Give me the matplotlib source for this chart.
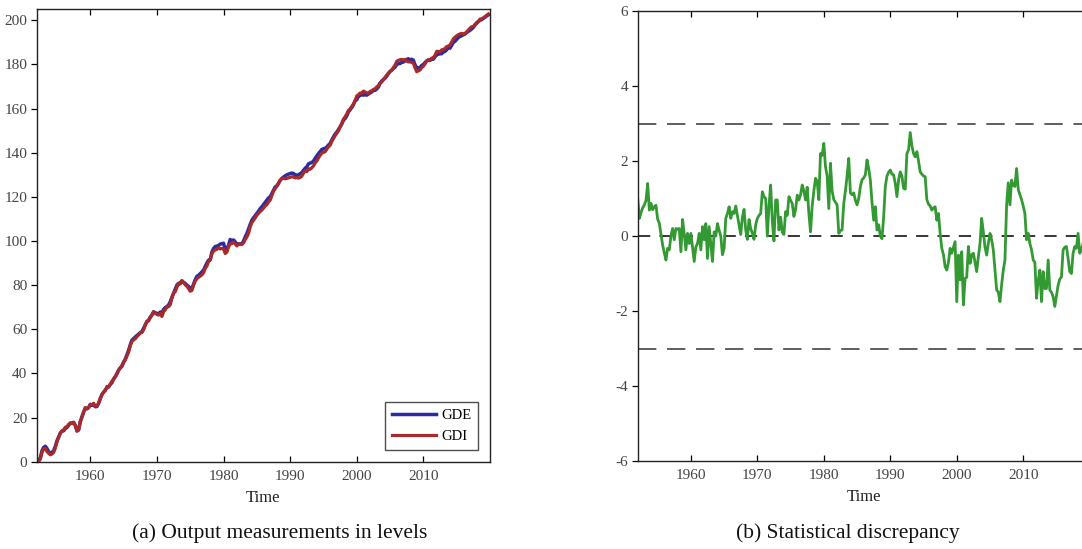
import numpy as np
import matplotlib
matplotlib.use("Agg")
import matplotlib.pyplot as plt

plt.rcParams['font.family'] = ['Liberation Serif', 'DejaVu Serif']

# Quarterly sample, 1952Q1 - 2019Q4
start_year = 1952
n_quarters = 272

# Gross domestic expenditure (100 x log level, rebased to 1952Q1)
gde = [
    0.0, 0.5, 1.8, 5.0,
    6.5, 7.0, 6.0, 4.5,
    4.0, 4.2, 5.0, 7.0,
    9.5, 11.3, 13.0, 13.8,
    14.0, 15.0, 15.5, 16.5,
    17.5, 17.5, 17.8, 16.5,
    14.0, 14.5, 18.0, 20.5,
    22.5, 24.2, 24.0, 24.5,
    26.0, 25.5, 25.8, 24.9,
    25.0, 26.5, 28.5, 30.5,
    31.5, 32.5, 33.5, 34.0,
    35.0, 35.8, 37.5, 38.5,
    40.0, 41.5, 42.5, 43.2,
    45.0, 46.5, 48.5, 50.5,
    53.0, 55.1, 55.8, 56.5,
    57.2, 57.8, 58.5, 59.0,
    60.5, 62.0, 63.5, 64.2,
    65.5, 66.5, 67.9, 67.5,
    67.2, 67.0, 67.8, 67.0,
    69.0, 69.8, 70.3, 71.0,
    72.5, 74.5, 76.3, 78.0,
    80.0, 80.8, 81.0, 82.0,
    81.3, 80.8, 80.0, 79.5,
    78.2, 78.5, 80.5, 82.5,
    84.0, 84.5, 85.2, 86.0,
    86.8, 88.5, 90.0, 91.3,
    91.5, 95.0, 96.6, 97.5,
    97.7, 98.0, 98.6, 98.8,
    99.0, 96.2, 96.5, 98.0,
    100.7, 100.0, 100.5, 99.6,
    98.6, 98.8, 98.6, 98.6,
    100.0, 101.8, 103.4, 105.5,
    107.5, 109.4, 110.5, 111.5,
    112.5, 113.5, 114.7, 115.5,
    116.5, 117.5, 118.5, 119.5,
    120.0, 121.5, 123.0, 124.5,
    125.0, 126.2, 127.5, 128.3,
    129.0, 129.5, 130.0, 130.3,
    130.6, 130.8, 130.6, 130.0,
    129.8, 130.0, 130.5, 131.0,
    132.0, 133.0, 133.6, 135.0,
    135.3, 135.6, 136.2, 137.5,
    138.5, 139.6, 140.5, 141.5,
    141.8, 142.0, 142.6, 143.5,
    144.2, 145.8, 147.2, 148.5,
    149.3, 150.5, 151.8, 153.0,
    154.7, 155.5, 156.7, 158.5,
    159.5, 160.5, 161.8, 163.5,
    164.0, 165.8, 165.9, 166.5,
    166.1, 166.4, 166.1, 166.6,
    167.1, 167.6, 168.2, 168.3,
    168.9, 169.8, 171.5, 172.5,
    173.2, 173.8, 174.7, 175.9,
    176.9, 177.4, 178.2, 178.8,
    180.0, 180.4, 180.4, 181.0,
    181.1, 181.7, 182.3, 182.6,
    182.0, 182.4, 181.9, 179.8,
    178.5, 178.4, 178.6, 179.6,
    180.0, 180.9, 181.6, 182.1,
    181.8, 182.5, 182.4, 183.5,
    184.3, 184.7, 184.8, 184.9,
    185.8, 185.9, 186.7, 187.7,
    187.4, 188.7, 190.0, 190.5,
    191.4, 192.2, 192.7, 193.0,
    193.5, 193.8, 194.5, 195.0,
    195.5, 196.1, 196.8, 197.9,
    198.7, 199.5, 200.1, 200.3,
    200.9, 201.4, 202.0, 202.5,
]

# Statistical discrepancy (GDE - GDI)
discrepancy = [
    1.00, 0.47, 0.62, 0.75,
    0.83, 0.95, 1.40, 0.69,
    0.87, 0.70, 0.78, 0.82,
    0.45, 0.34, 0.05, -0.24,
    -0.45, -0.64, -0.33, -0.37,
    0.00, 0.20, -0.10, 0.20,
    0.18, 0.20, -0.42, 0.44,
    0.05, -0.37, 0.07, -0.20,
    0.07, -0.30, -0.68, -0.29,
    -0.20, 0.07, -0.37, 0.25,
    -0.10, 0.33, -0.60, 0.25,
    -0.20, -0.68, 0.11, 0.00,
    0.33, 0.15, 0.00, -0.50,
    -0.33, 0.47, 0.60, 0.78,
    0.47, 0.65, 0.60, 0.80,
    0.55, 0.31, 0.04, 0.50,
    0.71, 0.16, -0.09, 0.44,
    0.20, 0.07, -0.09, 0.30,
    0.47, 0.55, 0.60, 1.18,
    1.05, 1.00, 0.00, 0.80,
    1.36, 0.40, -0.13, 0.96,
    0.96, 0.16, 0.50, 0.10,
    0.04, 0.65, 0.55, 1.05,
    0.95, 0.87, 0.52, 0.70,
    1.09, 0.96, 1.10, 1.36,
    1.20, 0.96, 1.30, 0.60,
    0.11, 0.80, 1.20, 1.54,
    1.45, 0.97, 2.20, 2.15,
    2.47, 1.85, 1.60, 0.73,
    1.94, 1.20, 0.97, 0.90,
    0.83, 0.07, 0.15, 0.16,
    0.87, 1.20, 1.60, 2.07,
    1.15, 1.10, 1.15, 0.95,
    0.83, 1.00, 1.32, 1.50,
    1.55, 1.63, 2.03, 1.80,
    1.49, 0.90, 0.42, 0.78,
    0.16, 0.30, 0.00, -0.07,
    0.50, 1.32, 1.60, 1.70,
    1.76, 1.65, 1.63, 1.40,
    1.05, 1.50, 1.71, 1.60,
    1.27, 1.25, 2.20, 2.30,
    2.76, 2.40, 2.20, 2.11,
    2.25, 2.00, 1.71, 1.65,
    1.60, 1.58, 0.97, 0.85,
    0.80, 0.69, 0.75, 0.78,
    0.42, 0.60, 0.07, -0.33,
    -0.50, -0.82, -0.91, -0.70,
    -0.33, -0.46, -0.30, -0.15,
    -1.75, -0.51, -1.17, -0.42,
    -1.84, -1.13, -1.10, -0.28,
    -0.73, -0.50, -0.46, -0.70,
    -0.95, -0.55, -0.20, 0.47,
    0.10, -0.30, -0.51, -0.20,
    0.07, -0.10, -0.37, -0.90,
    -1.44, -1.50, -1.75, -1.30,
    -0.91, -0.64, 0.83, 1.42,
    0.83, 1.49, 1.35, 1.32,
    1.80, 1.24, 1.10, 0.97,
    0.80, 0.60, -0.10, 0.07,
    -0.20, -0.37, -0.64, -0.70,
    -1.66, -1.20, -0.91, -1.75,
    -0.95, -1.40, -1.40, -0.64,
    -1.44, -1.50, -1.62, -1.88,
    -1.60, -1.31, -1.15, -1.09,
    -0.37, -0.30, -0.28, -0.60,
    -0.95, -1.00, -0.46, -0.28,
    -0.33, 0.07, -0.46, -0.37,
    -0.20, -0.30, -0.25, -0.35,
]

year_ticks = [1960, 1970, 1980, 1990, 2000, 2010]
level_ticks = list(range(0, 201, 20))
disc_ticks = [-6, -4, -2, 0, 2, 4, 6]
bands = [-3, 3]

time = start_year + np.arange(n_quarters) / 4.0
gde_arr = np.array(gde)
disc_arr = np.array(discrepancy)
gdi_arr = gde_arr - disc_arr

BLUE = '#2c2ca0'
RED = '#a82a2a'
GREEN = '#339933'
TICK_GREY = '#444444'

W, H = 1082, 549
fig = plt.figure(figsize=(W / 100, H / 100), dpi=100)


def style_axes(ax):
    ax.tick_params(axis='x', which='both', direction='in', top=True, bottom=True,
                   length=4, width=0.9, labelsize=11, labelcolor=TICK_GREY, pad=6)
    ax.tick_params(axis='y', which='both', direction='out', left=True, right=False,
                   length=4, width=0.9, labelsize=11, labelcolor=TICK_GREY, pad=3)
    for s in ax.spines.values():
        s.set_linewidth(1.0)
        s.set_color('#222222')
    ax.set_xticks(year_ticks)
    ax.set_xlabel('Time', fontsize=12, color='#222222', labelpad=5)


# (a) levels
ax1 = fig.add_axes([37 / W, (H - 461.7) / H, 453 / W, 452.4 / H])
ax1.plot(time, gde_arr, color=BLUE, lw=2.5, label='GDE')
ax1.plot(time, gdi_arr, color=RED, lw=2.3, label='GDI')
ax1.set_xlim(1952, 2020)
ax1.set_ylim(0, 205)
ax1.set_yticks(level_ticks)
style_axes(ax1)
leg = ax1.legend(loc='lower right', fontsize=10.5, frameon=True, fancybox=False,
                 edgecolor='#222222', handlelength=3.0, handletextpad=0.4,
                 borderpad=0.45, labelspacing=0.55, borderaxespad=0.8)
leg.get_frame().set_linewidth(1.0)

# (b) discrepancy
ax2 = fig.add_axes([637.7 / W, (H - 461) / H, 452 / W, 450 / H])
ax2.plot(time, disc_arr, color=GREEN, lw=2.0)
ax2.axhline(0, color='black', lw=1.1, ls=(0, (8, 6)), zorder=1)
for b in bands:
    ax2.axhline(b, color='#333333', lw=1.1, ls=(0, (12, 7)), zorder=1)
ax2.set_xlim(1952, 2020)
ax2.set_ylim(-6, 6)
ax2.set_yticks(disc_ticks)
ax2.set_yticklabels([str(v) for v in disc_ticks])
style_axes(ax2)

fig.text(280 / W, 1 - 533 / H, '(a) Output measurements in levels',
         ha='center', va='center', fontsize=15.5, color='#111111')
fig.text(848 / W, 1 - 533 / H, '(b) Statistical discrepancy',
         ha='center', va='center', fontsize=15.5, color='#111111')

fig.savefig('out.png', dpi=100)
